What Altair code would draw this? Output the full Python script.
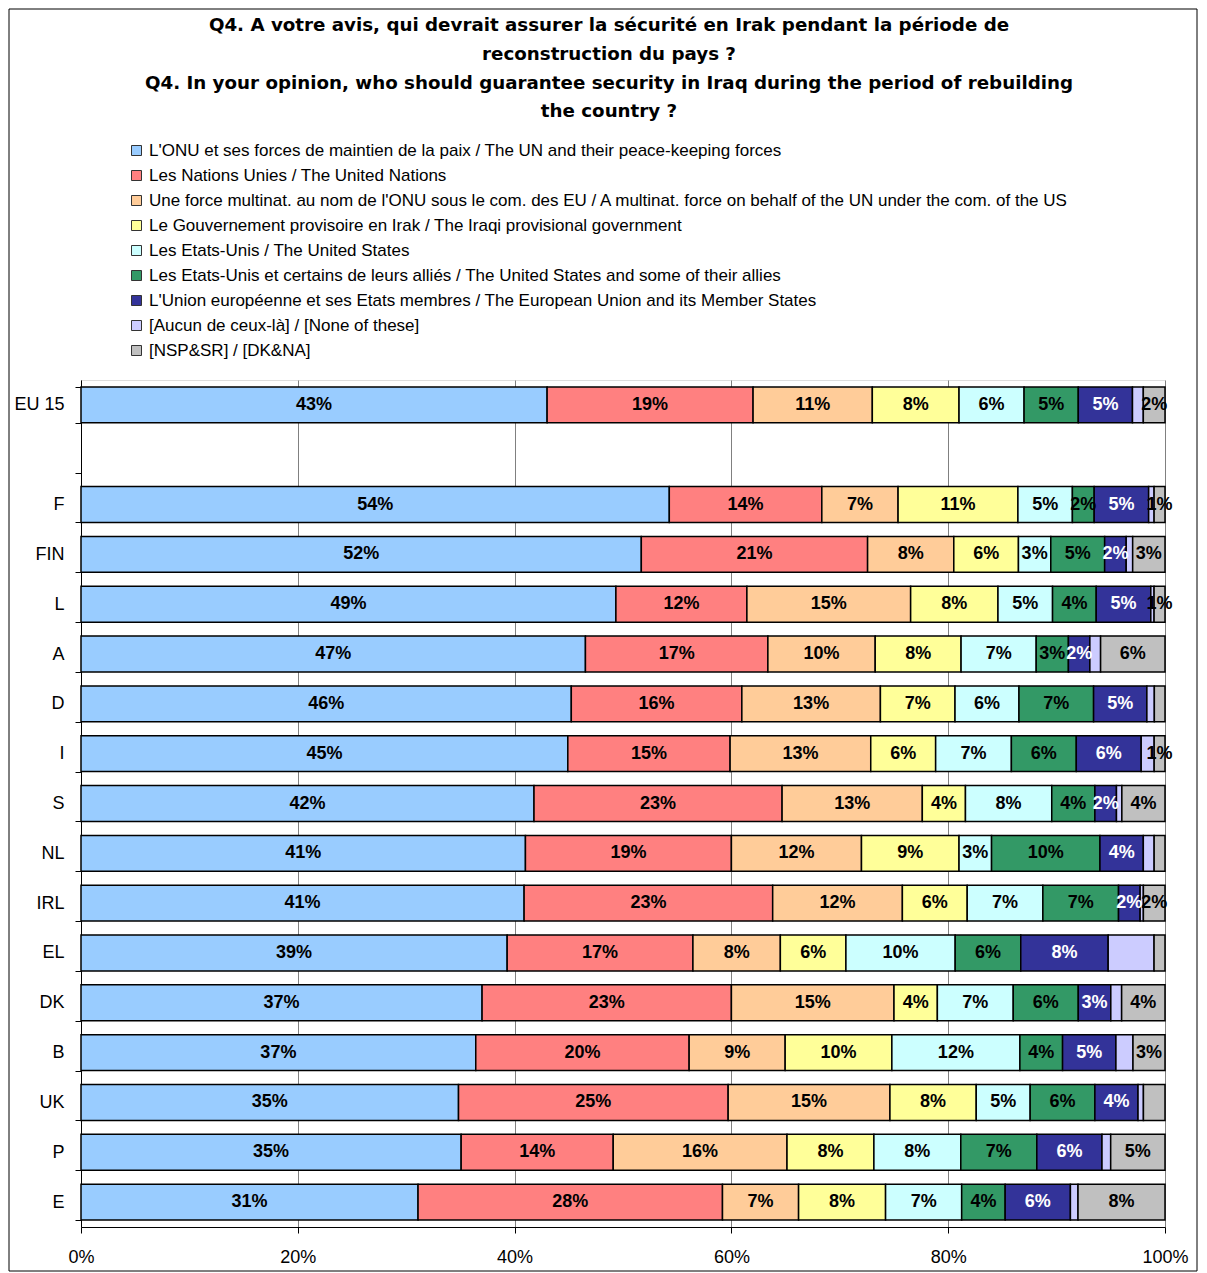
import altair as alt
import pandas as pd

countries = ["EU 15", "F", "FIN", "L", "A", "D", "I", "S", "NL", "IRL", "EL", "DK", "B", "UK", "P", "E"]
rows = ["EU 15", " ", "F", "FIN", "L", "A", "D", "I", "S", "NL", "IRL", "EL", "DK", "B", "UK", "P", "E"]

series = [
    "L'ONU et ses forces de maintien de la paix / The UN and their peace-keeping forces",
    "Les Nations Unies / The United Nations",
    "Une force multinat. au nom de l'ONU sous le com. des EU / A multinat. force on behalf of the UN under the com. of the US",
    "Le Gouvernement provisoire en Irak / The Iraqi provisional government",
    "Les Etats-Unis / The United States",
    "Les Etats-Unis et certains de leurs alliés / The United States and some of their allies",
    "L'Union européenne et ses Etats membres / The European Union and its Member States",
    "[Aucun de ceux-là] / [None of these]",
    "[NSP&SR] / [DK&NA]",
]
colors = ["#99CCFF", "#FF8080", "#FFCC99", "#FFFF99", "#CCFFFF", "#339966", "#333399", "#CCCCFF", "#C0C0C0"]

un_pk     = [43, 54, 52, 49, 47, 46, 45, 42, 41, 41, 39, 37, 37, 35, 35, 31]
un        = [19, 14, 21, 12, 17, 16, 15, 23, 19, 23, 17, 23, 20, 25, 14, 28]
multinat  = [11, 7, 8, 15, 10, 13, 13, 13, 12, 12, 8, 15, 9, 15, 16, 7]
iraqi     = [8, 11, 6, 8, 8, 7, 6, 4, 9, 6, 6, 4, 10, 8, 8, 8]
us        = [6, 5, 3, 5, 7, 6, 7, 8, 3, 7, 10, 7, 12, 5, 8, 7]
us_allies = [5, 2, 5, 4, 3, 7, 6, 4, 10, 7, 6, 6, 4, 6, 7, 4]
eu        = [5, 5, 2, 5, 2, 5, 6, 2, 4, 2, 8, 3, 5, 4, 6, 6]
none_     = [1, 0.5, 0.6, 0.3, 1, 0.7, 1.2, 0.5, 1, 0.3, 4.2, 1, 1.6, 0.5, 0.8, 0.7]
dk        = [2, 1, 3, 1, 6, 1, 1, 4, 1, 2, 1, 4, 3, 2, 5, 8]

all_values = [un_pk, un, multinat, iraqi, us, us_allies, eu, none_, dk]
hidden_dk_labels = ["D", "NL", "EL", "UK"]

recs = []
for i, c in enumerate(countries):
    vals = [s[i] for s in all_values]
    total = sum(vals)
    cum = 0.0
    for j, v in enumerate(vals):
        start = cum / total
        cum += v
        end = cum / total
        show = True
        if j == 7:
            show = False
        if j == 8 and c in hidden_dk_labels:
            show = False
        recs.append({
            "country": c,
            "series": series[j],
            "order": j,
            "start": start,
            "end": end,
            "mid": (start + end) / 2,
            "label": f"{int(round(v))}%" if show else "",
            "tcolor": "white" if j == 6 else "black",
        })
df = pd.DataFrame(recs)

FONT = "Liberation Sans"

yscale = alt.Scale(domain=rows, paddingInner=0.28, paddingOuter=0.14)
xscale = alt.Scale(domain=[0, 1], nice=False)

base = alt.Chart(df)

bars = base.mark_bar(stroke="black", strokeWidth=1.5).encode(
    x=alt.X("start:Q", scale=xscale,
            axis=alt.Axis(values=[0, 0.2, 0.4, 0.6, 0.8, 1.0], format=".0%", title=None,
                          labelFontSize=18, labelFont=FONT, labelColor="black",
                          labelFlush=False, grid=True, gridColor="#808080", gridWidth=1,
                          domainColor="black", tickColor="black", tickSize=6,
                          labelPadding=15)),
    x2="end:Q",
    y=alt.Y("country:N", scale=yscale, sort=rows,
            axis=alt.Axis(title=None, labelFontSize=18, labelFont=FONT, labelColor="black",
                          tickBand="extent", domainColor="black", tickColor="black",
                          tickSize=6, labelPadding=11, grid=False)),
    color=alt.Color("series:N", scale=alt.Scale(domain=series, range=colors),
                    legend=alt.Legend(title=None, orient="none", legendX=47, legendY=-238,
                                      symbolType="square", symbolSize=100,
                                      symbolStrokeColor="#333333", symbolStrokeWidth=1,
                                      labelFontSize=17, labelFont=FONT, labelColor="black",
                                      rowPadding=7, labelOffset=4, padding=0, labelLimit=1200)),
    order=alt.Order("order:Q"),
)

labels = base.mark_text(font=FONT, fontSize=18, fontWeight="bold").encode(
    x=alt.X("mid:Q", scale=xscale),
    y=alt.Y("country:N", scale=yscale, sort=rows),
    text="label:N",
    color=alt.Color("tcolor:N", scale=None),
)

frame = alt.Chart(alt.Data(values=[{"a": 1}])).mark_rect(
    fillOpacity=0, stroke="black", strokeWidth=1
).encode(
    x=alt.value(-72), x2=alt.value(1116), y=alt.value(-371), y2=alt.value(891)
)

chart = alt.layer(bars, labels, frame).properties(
    width=1084,
    height=847,
    padding={"left": 0, "top": 0, "right": 0, "bottom": 0},
    title=alt.TitleParams(
        text=[
            "Q4. A votre avis, qui devrait assurer la sécurité en Irak pendant la période de",
            "reconstruction du pays ?",
            "Q4. In your opinion, who should guarantee security in Iraq during the period of rebuilding",
            "the country ?",
        ],
        font="DejaVu Sans", fontSize=18.25, fontWeight="bold", color="black",
        anchor="middle", lineHeight=28.7, offset=-113, dx=-14,
    ),
).configure_view(stroke="#808080", strokeWidth=1).configure(background="white")

chart.save("out.html", embed_options={"renderer": "svg", "actions": False})
